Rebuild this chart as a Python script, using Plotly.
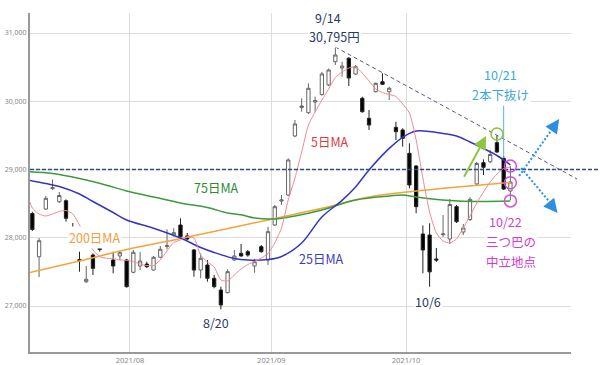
import plotly.graph_objects as go

# ---------------- data ----------------
jul = [8, 9, 12, 13, 14, 15, 16, 19, 20, 21, 26, 27, 28, 29, 30]
aug = [2, 3, 4, 5, 6, 10, 11, 12, 13, 16, 17, 18, 19, 20, 23, 24, 25, 26, 27, 30, 31]
sep = [1, 2, 3, 6, 7, 8, 9, 10, 13, 14, 15, 16, 17, 21, 22, 24, 27, 28, 29, 30]
octo = [1, 4, 5, 6, 7, 8, 11, 12, 13, 14, 15, 18, 19, 20, 21, 22]
dates = ([f"2021-07-{d:02d}" for d in jul] + [f"2021-08-{d:02d}" for d in aug]
         + [f"2021-09-{d:02d}" for d in sep] + [f"2021-10-{d:02d}" for d in octo])

opens = [28355, 27722, 28421, 28720, 28528, 28543, 27900, 27680, 27356, 27747,
         27919, 27905, 27674, 27733, 27674, 27494, 27586, 27615, 27527, 27714,
         27872, 28040, 28187, 28026, 27821, 27527, 27601, 27406, 27234, 27195,
         27674, 27772, 27796, 27586, 27869, 27674, 28187, 28538, 28626, 29491,
         29908, 29832, 29989, 30100, 30240, 30579, 30487, 30629, 30399, 30043,
         29750, 30140, 30286, 30140, 29618, 29579, 29237, 29051, 28055, 28040,
         27689, 28045, 27982, 28455, 28084, 28267, 28788, 29100, 29114, 29393,
         29164, 28685]
highs = [28380, 27996, 28612, 28853, 28670, 28563, 28216, 27796, 27586, 27772,
         27942, 27935, 27796, 27810, 27690, 27820, 27791, 27649, 27733, 27879,
         28124, 28139, 28285, 28070, 27835, 27772, 27674, 27454, 27283, 27538,
         27821, 27908, 27821, 27689, 27894, 28162, 28480, 28626, 29164, 29725,
         30043, 30263, 30067, 30430, 30480, 30795, 30579, 30648, 30531, 30067,
         29872, 30275, 30410, 30213, 29700, 29604, 29384, 29066, 28180, 28212,
         27850, 28333, 28568, 28480, 28201, 28593, 29110, 29149, 29286, 29498,
         29198, 29051]
lows = [28100, 27425, 28407, 28700, 28509, 28235, 27860, 27503, 27337, 27454,
        27796, 27880, 27479, 27674, 27270, 27479, 27527, 27557, 27520, 27699,
        27831, 28015, 28011, 27967, 27429, 27406, 27356, 27259, 26952, 27186,
        27664, 27722, 27722, 27488, 27781, 27601, 28172, 28480, 28612, 29472,
        29847, 29813, 29847, 30080, 30220, 30531, 30360, 30223, 30385, 29832,
        29579, 30128, 30238, 30018, 29432, 29334, 28725, 28358, 27480, 27283,
        27645, 28011, 27908, 28216, 28040, 28245, 28773, 28919, 29091, 29242,
        28700, 28553]
closes = [28121, 27957, 28578, 28735, 28619, 28285, 27890, 27665, 27391, 27552,
          27828, 27915, 27586, 27781, 27283, 27787, 27659, 27576, 27714, 27831,
          27886, 28074, 28015, 27982, 27527, 27699, 27406, 27283, 27015, 27503,
          27733, 27733, 27747, 27649, 27796, 28089, 28455, 28553, 29139, 29667,
          29930, 30190, 30011, 30400, 30458, 30678, 30516, 30341, 30506, 29847,
          29652, 30263, 30248, 30190, 29554, 29457, 28773, 28455, 27821, 27500,
          27674, 28055, 28487, 28235, 28143, 28563, 29088, 29032, 29220, 29256,
          28714, 28817]

# moving averages (position index, value)
ma5_x = [-0.4] + list(range(72))
ma5_y = [28530, 28436, 28348, 28319, 28348, 28385, 28399, 28348, 28187, 27996, 27821,
         27722, 27699, 27696, 27674, 27667, 27649, 27615, 27593, 27593, 27674,
         27806, 27930, 27967, 28011, 27996, 27747, 27645, 27571, 27381, 27366,
         27454, 27542, 27608, 27652, 27703, 27769, 27923, 28143, 28553, 28875,
         29256, 29652, 29842, 30018, 30179, 30348, 30429, 30487, 30502, 30414,
         30297, 30179, 30128, 30099, 30070, 29960, 29828, 29432, 28875, 28377,
         28070, 27952, 27923, 27982, 28143, 28319, 28509, 28670, 28817, 28934,
         29015, 29037]
ma25_x = [-0.4, 2, 4, 7, 9, 12, 14, 18, 22, 25, 27, 30, 32, 35, 37, 40, 43, 46,
          48, 50, 53, 55, 57, 59, 61, 63, 65, 67, 69, 71]
ma25_y = [28840, 28795, 28751, 28641, 28531, 28370, 28260, 28140, 27996, 27857,
          27784, 27696, 27674, 27681, 27725, 27923, 28304, 28547, 28744, 28993,
          29309, 29472, 29564, 29557, 29527, 29491, 29403, 29308, 29205, 29066]
ma75_x = [-0.4, 3, 7, 11, 14, 18, 22, 26, 29, 31, 33, 36, 39, 43, 48, 53, 55, 57,
          62, 66, 71]
ma75_y = [28968, 28941, 28868, 28770, 28685, 28597, 28509, 28443, 28363, 28336,
          28289, 28275, 28319, 28407, 28553, 28612, 28626, 28597, 28546, 28531, 28538]
ma200_x = [-0.4, 7, 14, 21, 28, 36, 43, 50, 57, 64, 71]
ma200_y = [27490, 27659, 27828, 27967, 28114, 28282, 28432, 28597, 28685, 28751, 28810]

month_labels = ["2021/08", "2021/09", "2021/10"]
y_ticks = [27000, 28000, 29000, 30000, 31000]

XR = [-0.35, 80.0]
YR = [26326, 31293]

idx = list(range(len(dates)))
month_starts = [i for i in range(1, len(dates)) if dates[i][5:7] != dates[i - 1][5:7]]


def xp(i):
    return (i - XR[0]) / (XR[1] - XR[0])


JP = "Noto Sans CJK JP"

fig = go.Figure()
fig.add_trace(go.Scatter(x=ma200_x, y=ma200_y, mode="lines", line=dict(color="#f4a43a", width=1.5, shape="spline"), hoverinfo="skip"))
fig.add_trace(go.Scatter(x=ma75_x, y=ma75_y, mode="lines", line=dict(color="#3d9a3d", width=1.5, shape="spline"), hoverinfo="skip"))
fig.add_trace(go.Scatter(x=ma25_x, y=ma25_y, mode="lines", line=dict(color="#3535c4", width=1.5, shape="spline"), hoverinfo="skip"))
fig.add_trace(go.Scatter(x=ma5_x, y=ma5_y, mode="lines", line=dict(color="#ee8a95", width=1, shape="spline", smoothing=0.6), hoverinfo="skip"))
fig.add_trace(go.Candlestick(
    x=idx, open=opens, high=highs, low=lows, close=closes, hovertext=dates,
    increasing=dict(fillcolor="white", line=dict(color="#666666", width=1)),
    decreasing=dict(fillcolor="black", line=dict(color="#222222", width=1)),
    whiskerwidth=0,
))

shapes = [
    dict(type="line", xref="paper", yref="y", x0=0, x1=1.054, y0=29000, y1=29000,
         line=dict(color="#2f4b8c", width=1.5, dash="4px,2px")),
    dict(type="line", xref="paper", yref="y", x0=xp(45), y0=30795, x1=xp(80.9), y1=28861,
         line=dict(color="#55558f", width=1, dash="4px,3px")),
    dict(type="line", xref="paper", yref="y", x0=xp(72.3), y0=28905, x1=xp(77.9), y1=29690,
         line=dict(color="#2e8ee0", width=2, dash="2px,2px")),
    dict(type="line", xref="paper", yref="y", x0=xp(72.6), y0=29022, x1=xp(77.7), y1=28420,
         line=dict(color="#2e8ee0", width=2, dash="2px,2px")),
    dict(type="line", xref="x", yref="y", x0=70, x1=70, y0=29974, y1=29168,
         line=dict(color="#5ab4e6", width=1)),
    dict(type="circle", xref="x", yref="y", xsizemode="pixel", ysizemode="pixel",
         xanchor=69, yanchor=29520, x0=-6, x1=6, y0=-6, y1=6,
         line=dict(color="#8dc63f", width=1.5)),
]
for v in [29050, 28805, 28540]:
    shapes.append(dict(type="circle", xref="x", yref="y", xsizemode="pixel", ysizemode="pixel",
                       xanchor=71, yanchor=v, x0=-6, x1=6, y0=-6, y1=6,
                       line=dict(color="#d64fd6", width=1.5)))

anns = []


def txt(x, y, s, color, size=12.5, bg=None):
    d = dict(x=x, y=y, xref="x", yref="y", text=s, showarrow=False,
             font=dict(family=JP, size=size, color=color))
    if bg:
        d.update(bgcolor=bg, borderpad=1)
    anns.append(d)


navy = "#2b3a67"
txt(43.9, 31234, "9/14", navy)
txt(44.8, 30956, "30,795円", navy, bg="white")
txt(44.2, 29403, "5日MA", "#e23a3a")
txt(27.3, 28729, "75日MA", "#2e8b2e")
txt(9.3, 28011, "200日MA", "#f0a040", bg="white")
txt(42.9, 27689, "25日MA", "#3d3dbf")
txt(27.3, 26751, "8/20", navy)
txt(58.8, 27059, "10/6", navy, bg="white")
txt(69.5, 30385, "10/21", "#3aa9d9")
txt(69.6, 30092, "2本下抜け", "#3aa9d9", bg="white")
txt(70.2, 28231, "10/22", "#d23cd2")
txt(71.1, 27938, "三つ巴の", "#d23cd2", bg="white")
txt(71.1, 27659, "中立地点", "#d23cd2")

# arrows
anns.append(dict(x=67.4, y=29491, xref="x", yref="y", ax=64.0, ay=28871, axref="x", ayref="y",
                 text="", showarrow=True, arrowhead=2, arrowsize=1.3, arrowwidth=2,
                 arrowcolor="#8dc63f"))
anns.append(dict(x=xp(78.25), y=29740, xref="paper", yref="y", ax=-4.6, ay=6.6,
                 text="", showarrow=True, arrowhead=2, arrowsize=1.4, arrowwidth=2,
                 arrowcolor="#2e8ee0"))
anns.append(dict(x=xp(78.0), y=28363, xref="paper", yref="y", ax=-5, ay=-6.2,
                 text="", showarrow=True, arrowhead=2, arrowsize=1.4, arrowwidth=2,
                 arrowcolor="#2e8ee0"))

fig.update_layout(
    width=600, height=365, margin=dict(l=30, r=29, t=13, b=13, autoexpand=False),
    paper_bgcolor="white", plot_bgcolor="white", showlegend=False,
    shapes=shapes, annotations=anns, hovermode=False,
    xaxis=dict(range=XR, rangeslider=dict(visible=False), showgrid=True, gridcolor="#dddddd",
               tickmode="array", tickvals=[s - 0.5 for s in month_starts], ticktext=month_labels,
               tickfont=dict(family="Noto Sans", size=7.5, color="#888888"), automargin=False,
               showline=True, linecolor="#999999", linewidth=2, zeroline=False, ticks=""),
    yaxis=dict(range=YR, showgrid=True, gridcolor="#dddddd", tickmode="array",
               tickvals=y_ticks, ticktext=[f"{v:,}" for v in y_ticks], automargin=False,
               tickfont=dict(family="Noto Sans", size=7, color="#888888"),
               showline=True, linecolor="#999999", linewidth=2, zeroline=False, ticks=""),
)

fig.write_html("out.html")
